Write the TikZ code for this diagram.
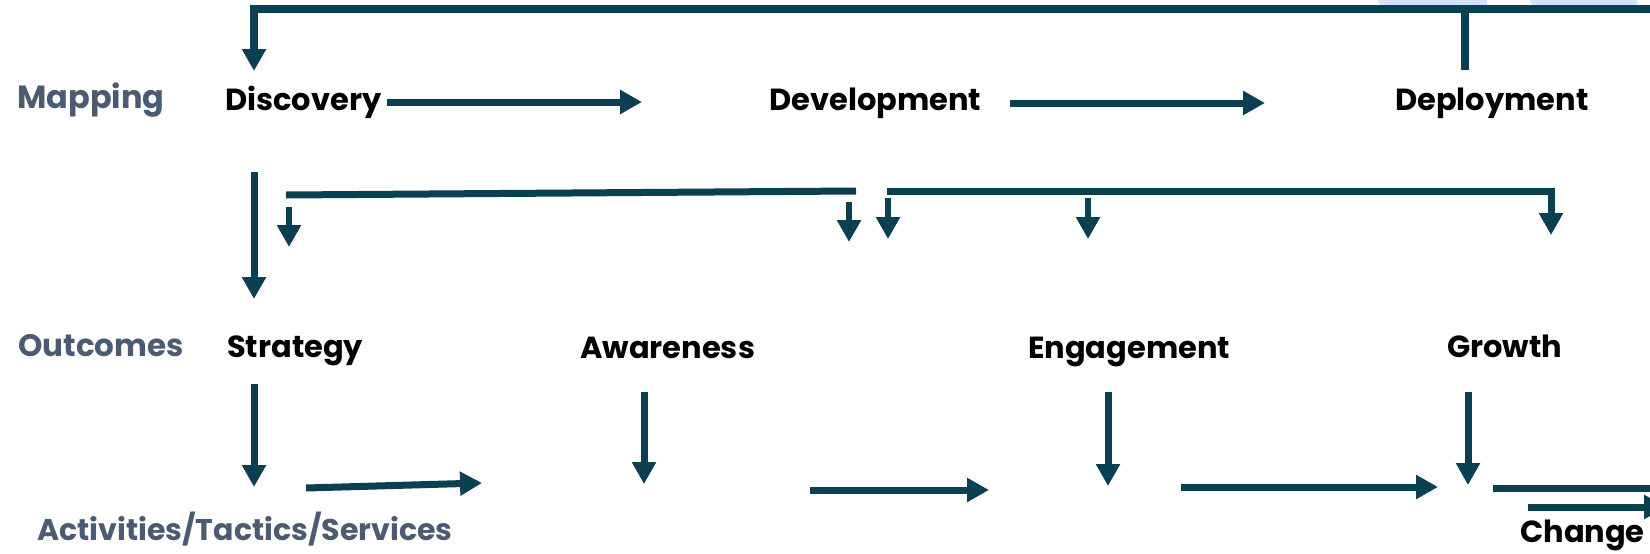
\documentclass[tikz,border=0pt]{standalone}
\usepackage{fontspec}
\setmainfont{Poppins}
\usetikzlibrary{arrows.meta}
\definecolor{arr}{HTML}{0B3F52}
\definecolor{lab}{HTML}{4B5B72}
\definecolor{bluebg}{HTML}{D3E2F8}
\tikzset{
  conn/.style={draw=arr, line width=7pt},
  arrw/.style={conn, -{Triangle[width=23pt,length=22pt]}},
  key/.style={anchor=base west, inner sep=0pt, font=\fontsize{30.5}{34}\selectfont\bfseries, text=black},
  rowlab/.style={anchor=base west, inner sep=0pt, font=\fontsize{31}{35}\selectfont\bfseries, text=lab},
}
\begin{document}
\begin{tikzpicture}[x=1pt,y=-1pt]
\useasboundingbox (0,0) rectangle (1650,554);
\clip (0,0) rectangle (1650,554);
% faint background slivers
\fill[bluebg] (1378,0) -- (1487,0) -- (1488,13) -- (1383,13) -- cycle;
\fill[bluebg] (1530,0) -- (1637,0) -- (1638,13) -- (1535,13) -- cycle;
% labels
\node[rowlab, font=\fontsize{32}{36}\selectfont\bfseries] (mapping) at (17,108) {Mapping};
\node[rowlab] (outcomes) at (18,356) {Outcomes};
\node[rowlab, font=\fontsize{30}{34}\selectfont\bfseries] (acts) at (37,540) {Activities/Tactics/Services};
\node[key] (discovery) at (225,110) {Discovery};
\node[key] (development) at (769,110) {Development};
\node[key] (deployment) at (1395,110) {Deployment};
\node[key] (strategy) at (227,357) {Strategy};
\node[key] (awareness) at (580,358) {Awareness};
\node[key] (engagement) at (1028,358) {Engagement};
\node[key] (growth) at (1447,357) {Growth};
\node[key] (change) at (1520,542) {Change};
% coordinates
\coordinate (topR) at (1655,9);
\coordinate (topTip) at (254,71);
\coordinate (depTop) at (1465,9);
\coordinate (depBot) at (1465,70);
\coordinate (d1) at (387,102); \coordinate (d2) at (642,102);
\coordinate (v1) at (1010,103); \coordinate (v2) at (1265,103);
\coordinate (ds1) at (254,172); \coordinate (ds2) at (254,299);
\coordinate (la1) at (286,195); \coordinate (la2) at (856,191);
\coordinate (sa1) at (289,207); \coordinate (sa2) at (289,247);
\coordinate (sb1) at (849,202); \coordinate (sb2) at (849,242);
\coordinate (lb1) at (887,191); \coordinate (lb2) at (1551,235);
\coordinate (sc1) at (888,198); \coordinate (sc2) at (888,239);
\coordinate (sd1) at (1088,198); \coordinate (sd2) at (1088,239);
\coordinate (st1) at (254,384); \coordinate (st2) at (254,487);
\coordinate (aw1) at (644,392); \coordinate (aw2) at (644,484);
\coordinate (en1) at (1108,392); \coordinate (en2) at (1108,486);
\coordinate (gr1) at (1468,392); \coordinate (gr2) at (1468,485);
\coordinate (h1a) at (306,488); \coordinate (h1b) at (482,483);
\coordinate (h2a) at (810,490); \coordinate (h2b) at (989,490);
\coordinate (h3a) at (1181,487); \coordinate (h3b) at (1438,487);
\coordinate (h4a) at (1493,488); \coordinate (h4b) at (1655,488);
\coordinate (cha) at (1528,507); \coordinate (chb) at (1666,507);
% connectors
\draw[arrw, line width=8pt] (topR) -| (topTip);
\draw[conn, line width=8pt] (depTop) -- (depBot);
\draw[arrw] (d1) -- (d2);
\draw[arrw] (v1) -- (v2);
\draw[arrw] (ds1) -- (ds2);
\draw[conn] (la1) -- (la2);
\draw[arrw, line width=6.5pt] (sa1) -- (sa2);
\draw[arrw, line width=6.5pt] (sb1) -- (sb2);
\draw[arrw] (lb1) -| (lb2);
\draw[arrw, line width=6.5pt] (sc1) -- (sc2);
\draw[arrw, line width=6.5pt] (sd1) -- (sd2);
\draw[arrw] (st1) -- (st2);
\draw[arrw] (aw1) -- (aw2);
\draw[arrw] (en1) -- (en2);
\draw[arrw] (gr1) -- (gr2);
\draw[arrw] (h1a) -- (h1b);
\draw[arrw] (h2a) -- (h2b);
\draw[arrw] (h3a) -- (h3b);
\draw[conn] (h4a) -- (h4b);
\draw[arrw] (cha) -- (chb);
\end{tikzpicture}
\end{document}
